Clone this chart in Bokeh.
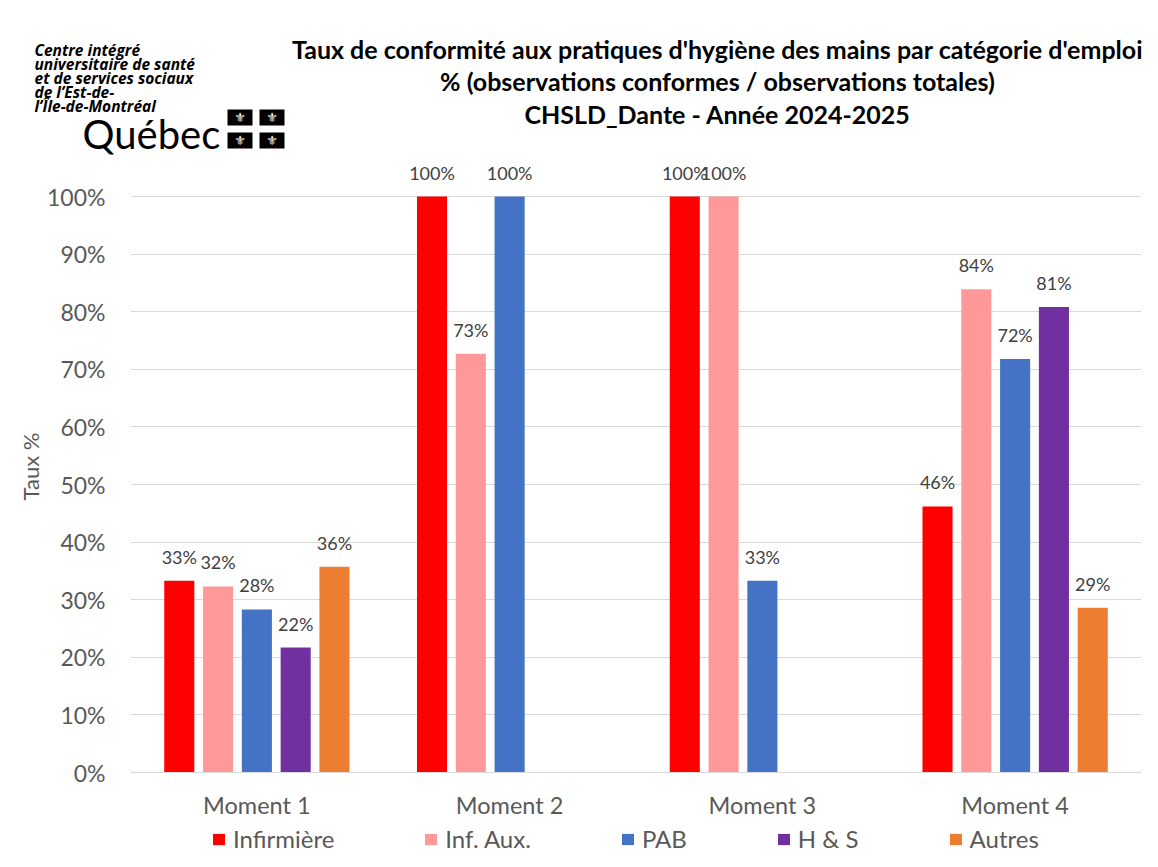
from bokeh.plotting import figure
from bokeh.layouts import column
from bokeh.models import (FactorRange, Range1d, FixedTicker, PrintfTickFormatter,
                          ColumnDataSource, Legend, LegendItem)
from bokeh.transform import dodge
from bokeh.core.properties import value
from bokeh.embed import file_html
from bokeh.resources import INLINE

# ---------------- data ----------------
moments = ["Moment 1", "Moment 2", "Moment 3", "Moment 4"]
series_names = ["Infirmière", "Inf. Aux.", "PAB", "H & S", "Autres"]
infirmiere = [33.3, 100.0, 100.0, 46.2]
inf_aux = [32.3, 72.7, 100.0, 83.9]
pab = [28.3, 100.0, 33.3, 71.8]
h_s = [21.7, None, None, 80.8]
autres = [35.7, None, None, 28.6]
series_values = [infirmiere, inf_aux, pab, h_s, autres]
colors = ["#FF0000", "#FF9999", "#4472C4", "#7030A0", "#ED7D31"]
y_ticks = [0, 10, 20, 30, 40, 50, 60, 70, 80, 90, 100]
title_lines = [
    "Taux de conformité aux pratiques d'hygiène des mains par catégorie d'emploi",
    "% (observations conformes / observations totales)",
    "CHSLD_Dante - Année 2024-2025",
]
y_label = "Taux %"
logo_lines = ["Centre intégré", "universitaire de santé", "et de services sociaux",
              "de l’Est-de-", "l’Île-de-Montréal"]
logo_word = "Québec"

FONT = "Lato"
GREY = "#595959"
W = 1158


def bare(fig):
    fig.outline_line_color = None
    fig.background_fill_color = "white"
    fig.border_fill_color = "white"
    fig.xgrid.visible = False
    fig.ygrid.visible = False
    return fig


# ---------------- header (logo + titles) ----------------
HH = 160
head = bare(figure(width=W, height=HH, x_range=Range1d(0, W), y_range=Range1d(HH, 0),
                   output_backend="svg", toolbar_location=None,
                   x_axis_location=None, y_axis_location=None,
                   min_border_left=0, min_border_right=0, min_border_top=0,
                   min_border_bottom=0))
head.text(x=[34] * len(logo_lines), y=[49 + 14 * k for k in range(len(logo_lines))],
          text=logo_lines, text_font=value("Open Sans"), text_font_size="15.5px",
          text_font_style="bold italic", text_color="black", text_baseline="alphabetic")
head.text(x=[82], y=[133], text=[logo_word], text_font=value(FONT),
          text_font_size="40px", text_color="black", text_baseline="alphabetic")
fx = [239.5, 271.5, 239.5, 271.5]
fy = [117, 117, 140, 140]
head.rect(x=fx, y=fy, width=25, height=16, fill_color="black", line_color=None)
head.text(x=fx, y=fy, text=["⚜"] * 4, text_font=value("DejaVu Sans"),
          text_font_size="13px", text_color="white", text_align="center",
          text_baseline="middle")
head.text(x=[717] * 3, y=[48, 80, 113], text=title_lines, text_font=value(FONT),
          text_font_size="25px", text_font_style="bold", text_color="black",
          text_align="center", text_baseline="middle")

# ---------------- main chart ----------------
p = bare(figure(width=W, height=662, x_range=FactorRange(*moments, range_padding=0),
                y_range=Range1d(0, 106.25), output_backend="svg", toolbar_location=None,
                min_border_left=130, min_border_right=17, min_border_top=0,
                min_border_bottom=50))
p.ygrid.visible = True
p.ygrid.grid_line_color = "#D9D9D9"

bar_w = 0.119
step = 0.1535
for i, (name, vals, col) in enumerate(zip(series_names, series_values, colors)):
    off = (i - 2) * step
    tops = [float("nan") if v is None else v for v in vals]
    src = ColumnDataSource(dict(x=moments, top=tops))
    p.vbar(x=dodge("x", off, range=p.x_range), top="top", width=bar_w,
           fill_color=col, line_color=None, source=src)
    lx = [m for m, v in zip(moments, vals) if v is not None]
    ly = [v for v in vals if v is not None]
    lt = [f"{round(v)}%" for v in ly]
    lsrc = ColumnDataSource(dict(x=lx, y=ly, t=lt))
    p.text(x=dodge("x", off, range=p.x_range), y="y", text="t", source=lsrc,
           text_align="center", text_baseline="middle", y_offset=-24,
           text_font=value(FONT), text_font_size="18px", text_color="#404040")

p.yaxis.ticker = FixedTicker(ticks=y_ticks)
p.yaxis.formatter = PrintfTickFormatter(format="%d%%")
p.yaxis.axis_line_color = None
p.yaxis.major_tick_line_color = None
p.yaxis.minor_tick_line_color = None
p.yaxis.major_label_standoff = 19
p.yaxis.major_label_text_font = FONT
p.yaxis.major_label_text_font_size = "23px"
p.yaxis.major_label_text_color = GREY
p.yaxis.axis_label = y_label
p.yaxis.axis_label_text_font = FONT
p.yaxis.axis_label_text_font_size = "22px"
p.yaxis.axis_label_text_font_style = "normal"
p.yaxis.axis_label_text_color = GREY
p.yaxis.axis_label_standoff = 0

p.xaxis.axis_line_color = "#D9D9D9"
p.xaxis.major_tick_line_color = None
p.xaxis.minor_tick_line_color = None
p.xaxis.major_label_text_font = FONT
p.xaxis.major_label_text_font_size = "23.5px"
p.xaxis.major_label_text_color = GREY
p.xaxis.major_label_standoff = 12

# ---------------- legend strip ----------------
FH = 45
foot = bare(figure(width=W, height=FH, x_range=Range1d(0, W), y_range=Range1d(0, FH),
                   output_backend="svg", toolbar_location=None,
                   x_axis_location=None, y_axis_location=None,
                   min_border_left=0, min_border_right=0, min_border_top=0,
                   min_border_bottom=0))
items = []
nan = float("nan")
for name, col in zip(series_names, colors):
    r = foot.vbar(x=[nan], top=[nan], width=1, fill_color=col, line_color=None)
    items.append(LegendItem(label=name, renderers=[r]))
legend = Legend(items=items, orientation="horizontal", location=(211, 14),
                glyph_width=15, glyph_height=14, label_standoff=7, spacing=89,
                label_text_font=FONT, label_text_font_size="24px",
                label_text_color=GREY, border_line_color=None,
                background_fill_alpha=0, padding=0, margin=0)
foot.add_layout(legend, "center")

layout = column(column(head), p, column(foot), spacing=0)

open("out.html", "w").write(file_html(layout, INLINE))
